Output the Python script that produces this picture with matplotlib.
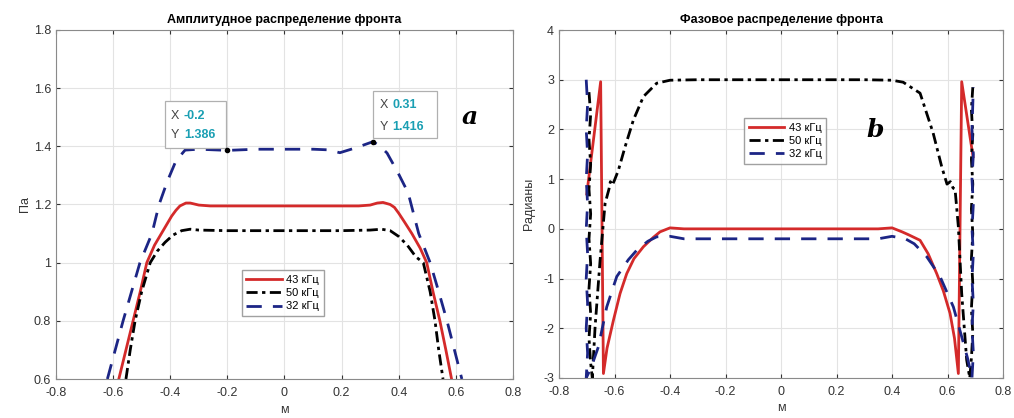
import matplotlib
matplotlib.use('Agg')
import matplotlib.pyplot as plt
from matplotlib.ticker import FuncFormatter, MultipleLocator
from matplotlib.patches import Rectangle

plt.rcParams['font.family'] = ['Liberation Sans', 'DejaVu Sans']

labels = ['43 кГц', '50 кГц', '32 кГц']

# amplitude, Pa
amp_x_43 = [-0.58, -0.555, -0.53, -0.505, -0.482, -0.455, -0.425, -0.41, -0.395, -0.38, -0.366, -0.345,
            -0.33, -0.30, -0.26, -0.15, 0.0, 0.15, 0.26, 0.30, 0.325, 0.345, 0.37, 0.385, 0.40, 0.42,
            0.446, 0.475, 0.498, 0.52, 0.544, 0.565, 0.585]
amp_y_43 = [0.6, 0.7, 0.8, 0.9, 1.0, 1.06, 1.11, 1.135, 1.16, 1.18, 1.195, 1.205,
            1.205, 1.198, 1.195, 1.195, 1.195, 1.195, 1.195, 1.198, 1.205, 1.207, 1.2, 1.19, 1.17, 1.14,
            1.1, 1.05, 1.0, 0.9, 0.8, 0.7, 0.6]

amp_x_50 = [-0.555, -0.54, -0.523, -0.50, -0.47, -0.445, -0.418, -0.39, -0.36, -0.33, -0.30, -0.2,
            0.0, 0.2, 0.30, 0.34, 0.37, 0.40, 0.43, 0.46, 0.486, 0.51, 0.527, 0.54, 0.555]
amp_y_50 = [0.6, 0.7, 0.8, 0.9, 1.0, 1.04, 1.07, 1.095, 1.11, 1.115, 1.112, 1.11,
            1.11, 1.11, 1.112, 1.115, 1.11, 1.09, 1.06, 1.02, 1.0, 0.9, 0.8, 0.7, 0.6]

amp_x_32 = [-0.62, -0.565, -0.506, -0.464, -0.439, -0.41, -0.38, -0.348, -0.3, -0.2, -0.1, 0.0,
            0.1, 0.15, 0.194, 0.25, 0.31, 0.335, 0.359, 0.38, 0.398, 0.433, 0.47, 0.51, 0.54,
            0.569, 0.621]
amp_y_32 = [0.6, 0.8, 1.0, 1.1, 1.2, 1.28, 1.35, 1.387, 1.39, 1.386, 1.39, 1.39,
            1.39, 1.388, 1.378, 1.395, 1.416, 1.40, 1.377, 1.34, 1.308, 1.24, 1.1, 1.0, 0.9,
            0.8, 0.6]

# data tips
tip_x = [-0.2, 0.31]
tip_y = [1.386, 1.416]

# phase, rad
ph_x_43 = [-0.70, -0.65, -0.64, -0.627, -0.604, -0.58, -0.556, -0.53, -0.496, -0.46, -0.436, -0.40,
           -0.35, -0.2, 0.0, 0.2, 0.35, 0.40, 0.436, 0.46, 0.501, 0.53, 0.561, 0.585, 0.609,
           0.625, 0.639, 0.651, 0.681, 0.692]
ph_y_43 = [0.7, 2.96, -2.91, -2.4, -1.84, -1.3, -0.9, -0.6, -0.36, -0.17, -0.06, 0.02,
           0.0, 0.0, 0.0, 0.0, 0.0, 0.02, -0.06, -0.12, -0.23, -0.5, -0.9, -1.25, -1.7,
           -2.2, -2.91, 2.96, 1.85, 1.45]

ph_x_50 = [-0.692, -0.686, -0.692, -0.686, -0.692, -0.686, -0.692, -0.686, -0.692, -0.686, -0.692,
           -0.686, -0.68, -0.67, -0.652, -0.634, -0.62, -0.615, -0.608, -0.60, -0.586, -0.562,
           -0.532, -0.496, -0.448, -0.40, -0.3, 0.0, 0.3, 0.40, 0.44, 0.501, 0.548, 0.579, 0.598,
           0.61, 0.62, 0.627, 0.639, 0.651, 0.669, 0.68, 0.686, 0.691, 0.686, 0.691, 0.686, 0.691,
           0.686, 0.691, 0.686, 0.691, 0.686, 0.691]
ph_y_50 = [2.75, 2.3, 1.8, 1.3, 0.8, 0.3, -0.2, -0.7, -1.2, -1.7, -2.2,
           -2.7, -3.0, -1.97, -0.63, 0.51, 0.8, 0.95, 0.88, 0.98, 1.18, 1.65,
           2.19, 2.66, 2.93, 2.99, 3.0, 3.0, 3.0, 2.99, 2.95, 2.73, 1.93, 1.25, 0.9,
           0.95, 0.82, 0.8, 0.04, -1.3, -2.64, -3.0, -2.6, -2.1, -1.6, -1.1, -0.6, -0.1,
           0.4, 0.9, 1.4, 1.9, 2.4, 2.85]

ph_x_32 = [-0.702, -0.697, -0.702, -0.697, -0.702, -0.697, -0.702, -0.697, -0.702, -0.697, -0.702,
           -0.697, -0.702, -0.685, -0.658, -0.628, -0.592, -0.55, -0.52, -0.48, -0.448, -0.40,
           -0.35, -0.2, 0.0, 0.2, 0.35, 0.40, 0.448, 0.48, 0.525, 0.573, 0.621, 0.651, 0.672,
           0.688, 0.693, 0.688, 0.693, 0.688, 0.693, 0.688, 0.693, 0.688, 0.693, 0.688, 0.693]
ph_y_32 = [3.0, 2.5, 2.0, 1.5, 1.0, 0.5, 0.0, -0.5, -1.0, -1.5, -2.0,
           -2.5, -3.0, -2.8, -2.37, -1.57, -0.96, -0.62, -0.43, -0.25, -0.16, -0.15,
           -0.2, -0.2, -0.2, -0.2, -0.2, -0.15, -0.2, -0.3, -0.56, -0.96, -1.57, -2.17, -2.6,
           -3.0, -2.5, -2.0, -1.5, -1.0, -0.5, 0.0, 0.5, 1.0, 1.5, 2.0, 2.85]

RED = '#d42a2a'
BLUE = '#1c2585'
styles = [dict(color=RED, lw=2.0, ls='-'),
          dict(color='black', lw=2.0, ls=(0, (4, 1.6, 1.2, 1.6))),
          dict(color=BLUE, lw=2.0, ls=(0, (5.5, 4)))]

fig = plt.figure(figsize=(10.14, 4.18), dpi=100)
ax1 = fig.add_axes([0.0552, 0.0933, 0.4507, 0.835])
ax2 = fig.add_axes([0.5513, 0.0957, 0.4379, 0.8325])

fmt = FuncFormatter(lambda v, p: '%g' % round(v, 6))


def style_axes(ax):
    ax.grid(True, color='#e3e3e3', lw=0.8)
    ax.set_axisbelow(True)
    ax.tick_params(direction='in', length=3, labelsize=9, colors='#333333',
                   top=True, right=True)
    ax.tick_params(axis='x', pad=6)
    for s in ax.spines.values():
        s.set_color('#8a8a8a')
        s.set_linewidth(0.8)
    ax.xaxis.set_major_locator(MultipleLocator(0.2))
    ax.xaxis.set_major_formatter(fmt)
    ax.yaxis.set_major_formatter(fmt)
    ax.set_xlim(-0.8, 0.8)
    ax.set_xlabel('м', fontsize=9, color='#333333', labelpad=3)


# left: amplitude
for xs, ys, lab, st in zip([amp_x_43, amp_x_50, amp_x_32], [amp_y_43, amp_y_50, amp_y_32], labels, styles):
    ax1.plot(xs, ys, label=lab, **st)
style_axes(ax1)
ax1.set_ylim(0.6, 1.8)
ax1.yaxis.set_major_locator(MultipleLocator(0.2))
ax1.set_ylabel('Па', fontsize=9, color='#333333', labelpad=2)
ax1.set_title('Амплитудное распределение фронта', fontsize=9, fontweight='bold', pad=5)
ax1.legend(loc='lower left', bbox_to_anchor=(0.395, 0.165), fontsize=8, fancybox=False,
           edgecolor='#8a8a8a', handlelength=3.2, borderpad=0.4, labelspacing=0.3, handletextpad=0.4)
ax1.plot(tip_x, tip_y, 'o', color='black', ms=3, zorder=5)

# data tip boxes
ax1.add_patch(Rectangle((-0.418, 1.394), 0.213, 0.162, facecolor='white', edgecolor='#b0b0b0', lw=0.9, zorder=4))
ax1.add_patch(Rectangle((0.31, 1.429), 0.224, 0.161, facecolor='white', edgecolor='#b0b0b0', lw=0.9, zorder=4))
tip_pos = [(-0.397, 1.503, 1.438), (0.333, 1.541, 1.468)]
for (tx, y1, y2), vx, vy in zip(tip_pos, tip_x, tip_y):
    ax1.text(tx, y1, 'X', fontsize=9, color='#444444', va='center', zorder=6)
    ax1.text(tx + 0.045, y1, '%g' % vx, fontsize=9, color='#1a9fb3', fontweight='bold', va='center', zorder=6)
    ax1.text(tx, y2, 'Y', fontsize=9, color='#444444', va='center', zorder=6)
    ax1.text(tx + 0.045, y2, '%g' % vy, fontsize=9, color='#1a9fb3', fontweight='bold', va='center', zorder=6)
ax1.text(0.65, 1.50, 'a', fontsize=18, fontstyle='italic', fontweight='bold',
         family='DejaVu Serif', va='center', ha='center')

# right: phase
for xs, ys, lab, st in zip([ph_x_43, ph_x_50, ph_x_32], [ph_y_43, ph_y_50, ph_y_32], labels, styles):
    ax2.plot(xs, ys, label=lab, **st)
style_axes(ax2)
ax2.set_ylim(-3, 4)
ax2.yaxis.set_major_locator(MultipleLocator(1))
ax2.set_ylabel('Радианы', fontsize=9, color='#333333', labelpad=6)
ax2.set_title('Фазовое распределение фронта', fontsize=9, fontweight='bold', pad=5)
ax2.legend(loc='lower left', bbox_to_anchor=(0.405, 0.6), fontsize=8, fancybox=False,
           edgecolor='#8a8a8a', handlelength=3.2, borderpad=0.4, labelspacing=0.3, handletextpad=0.4)
ax2.text(0.34, 1.99, 'b', fontsize=18, fontstyle='italic', fontweight='bold',
         family='DejaVu Serif', va='center', ha='center')

fig.savefig('out.png', dpi=100)
